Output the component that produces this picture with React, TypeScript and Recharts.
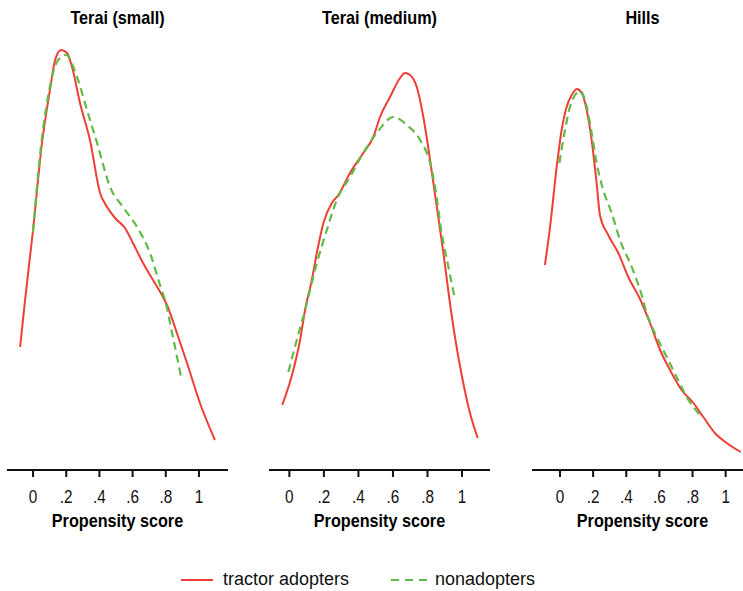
import React from 'react';
import { LineChart, Line, XAxis, YAxis } from 'recharts';

// density curves (x = propensity score, y = density)
const redSmall = [
  { x: -0.078, y: 1.23 }, { x: -0.048, y: 1.7 }, { x: 0, y: 2.4 }, { x: 0.054, y: 3.27 },
  { x: 0.102, y: 3.8 }, { x: 0.133, y: 4.1 }, { x: 0.169, y: 4.2 }, { x: 0.205, y: 4.17 },
  { x: 0.235, y: 4.03 }, { x: 0.283, y: 3.67 }, { x: 0.343, y: 3.3 }, { x: 0.404, y: 2.77 },
  { x: 0.446, y: 2.63 }, { x: 0.494, y: 2.52 }, { x: 0.554, y: 2.42 }, { x: 0.602, y: 2.27 },
  { x: 0.663, y: 2.07 }, { x: 0.723, y: 1.9 }, { x: 0.783, y: 1.73 }, { x: 0.807, y: 1.65 },
  { x: 0.867, y: 1.37 }, { x: 0.928, y: 1.07 }, { x: 1.006, y: 0.67 }, { x: 1.096, y: 0.3 },
];
const greenSmall = [
  { x: 0, y: 2.38 }, { x: 0.042, y: 3.15 }, { x: 0.09, y: 3.73 }, { x: 0.151, y: 4.1 },
  { x: 0.199, y: 4.15 }, { x: 0.265, y: 3.93 }, { x: 0.325, y: 3.6 }, { x: 0.386, y: 3.27 },
  { x: 0.464, y: 2.83 }, { x: 0.542, y: 2.63 }, { x: 0.627, y: 2.43 }, { x: 0.705, y: 2.17 },
  { x: 0.765, y: 1.85 }, { x: 0.795, y: 1.7 }, { x: 0.843, y: 1.33 }, { x: 0.892, y: 0.93 },
];
const redMedium = [
  { x: -0.041, y: 0.65 }, { x: 0.023, y: 1.0 }, { x: 0.062, y: 1.3 }, { x: 0.091, y: 1.6 },
  { x: 0.13, y: 1.9 }, { x: 0.159, y: 2.17 }, { x: 0.197, y: 2.47 }, { x: 0.246, y: 2.67 },
  { x: 0.284, y: 2.75 }, { x: 0.351, y: 2.97 }, { x: 0.428, y: 3.17 }, { x: 0.486, y: 3.33 },
  { x: 0.525, y: 3.53 }, { x: 0.583, y: 3.73 }, { x: 0.641, y: 3.92 }, { x: 0.67, y: 3.97 },
  { x: 0.699, y: 3.95 }, { x: 0.738, y: 3.83 }, { x: 0.776, y: 3.53 }, { x: 0.815, y: 3.1 },
  { x: 0.854, y: 2.63 }, { x: 0.892, y: 2.17 }, { x: 0.926, y: 1.72 }, { x: 0.96, y: 1.32 },
  { x: 0.998, y: 0.95 }, { x: 1.046, y: 0.57 }, { x: 1.091, y: 0.32 },
];
const greenMedium = [
  { x: -0.006, y: 0.98 }, { x: 0.043, y: 1.3 }, { x: 0.091, y: 1.6 }, { x: 0.159, y: 2.07 },
  { x: 0.217, y: 2.4 }, { x: 0.274, y: 2.7 }, { x: 0.351, y: 2.93 }, { x: 0.428, y: 3.17 },
  { x: 0.506, y: 3.37 }, { x: 0.602, y: 3.53 }, { x: 0.68, y: 3.45 }, { x: 0.757, y: 3.3 },
  { x: 0.815, y: 3.07 }, { x: 0.844, y: 2.83 }, { x: 0.882, y: 2.37 }, { x: 0.921, y: 2.03 },
  { x: 0.954, y: 1.75 },
];
const redHills = [
  { x: -0.091, y: 2.05 }, { x: -0.06, y: 2.43 }, { x: -0.02, y: 3.03 }, { x: 0.01, y: 3.4 },
  { x: 0.04, y: 3.63 }, { x: 0.071, y: 3.75 }, { x: 0.101, y: 3.81 }, { x: 0.131, y: 3.77 },
  { x: 0.161, y: 3.6 }, { x: 0.191, y: 3.3 }, { x: 0.221, y: 2.87 }, { x: 0.241, y: 2.55 },
  { x: 0.291, y: 2.35 }, { x: 0.352, y: 2.17 }, { x: 0.412, y: 1.93 }, { x: 0.483, y: 1.71 },
  { x: 0.543, y: 1.47 }, { x: 0.604, y: 1.2 }, { x: 0.664, y: 1.0 }, { x: 0.734, y: 0.8 },
  { x: 0.805, y: 0.67 }, { x: 0.865, y: 0.53 }, { x: 0.935, y: 0.37 }, { x: 1.006, y: 0.27 },
  { x: 1.091, y: 0.18 },
];
const greenHills = [
  { x: -0.004, y: 3.07 }, { x: 0.03, y: 3.4 }, { x: 0.06, y: 3.63 }, { x: 0.091, y: 3.75 },
  { x: 0.121, y: 3.79 }, { x: 0.151, y: 3.7 }, { x: 0.191, y: 3.37 }, { x: 0.221, y: 3.07 },
  { x: 0.261, y: 2.8 }, { x: 0.312, y: 2.57 }, { x: 0.362, y: 2.3 }, { x: 0.433, y: 2.03 },
  { x: 0.493, y: 1.75 }, { x: 0.523, y: 1.57 }, { x: 0.584, y: 1.33 }, { x: 0.644, y: 1.13 },
  { x: 0.704, y: 0.93 }, { x: 0.765, y: 0.73 }, { x: 0.845, y: 0.55 },
];

const TITLES = ['Terai (small)', 'Terai (medium)', 'Hills'];
const TICKS = [0, 0.2, 0.4, 0.6, 0.8, 1];
const TICK_LABELS = ['0', '.2', '.4', '.6', '.8', '1'];
const SERIES_NAMES = ['tractor adopters', 'nonadopters'];

const RED = '#ee3f36';
const GREEN = '#62bb46';
const FONT = '"Liberation Sans", Arial, sans-serif';

const panels = [
  { left: 7, domain: [-0.157, 1.175], red: redSmall, green: greenSmall },
  { left: 269, domain: [-0.118, 1.162], red: redMedium, green: greenMedium },
  { left: 532, domain: [-0.169, 1.165], red: redHills, green: greenHills },
];

const PANEL_W = 221;

const Tick = (props: any) => {
  const { x, y, payload } = props;
  const i = TICKS.indexOf(payload.value);
  return (
    <g transform={`translate(${x},${y})`}>
      <text transform="scale(0.85,1)" textAnchor="middle" dy={26} fontSize={18} fontFamily={FONT} fill="#111">
        {TICK_LABELS[i]}
      </text>
    </g>
  );
};

const Panel = ({ p }: { p: (typeof panels)[number] }) => (
  <div style={{ position: 'absolute', left: p.left, top: 0 }}>
    <LineChart width={PANEL_W} height={540} margin={{ top: 20, right: 0, bottom: 0, left: 0 }}>
      <XAxis
        type="number"
        dataKey="x"
        domain={p.domain}
        allowDataOverflow
        ticks={TICKS}
        interval={0}
        height={70}
        tickSize={7}
        tickMargin={0}
        axisLine={{ stroke: '#111', strokeWidth: 2 }}
        tickLine={{ stroke: '#111', strokeWidth: 2 }}
        tick={<Tick />}
      />
      <YAxis hide type="number" domain={[0, 4.5]} allowDataOverflow />
      <Line data={p.red} dataKey="y" type="monotone" stroke={RED} strokeWidth={2} dot={false} isAnimationActive={false} />
      <Line data={p.green} dataKey="y" type="monotone" stroke={GREEN} strokeWidth={2.2} strokeDasharray="8 5" dot={false} isAnimationActive={false} />
    </LineChart>
  </div>
);

export default function App() {
  return (
    <div style={{ position: 'absolute', left: 0, top: 0, width: 743, height: 591, overflow: 'hidden', background: '#fff' }}>
      {panels.map((p, i) => (
        <Panel key={i} p={p} />
      ))}
      <svg width={743} height={591} style={{ position: 'absolute', left: 0, top: 0, pointerEvents: 'none' }} fontFamily={FONT}>
        {panels.map((p, i) => {
          const cx = p.left + PANEL_W / 2;
          return (
            <g key={i}>
              <text transform={`translate(${cx},24) scale(0.9,1)`} textAnchor="middle" fontSize={18} fontWeight="bold" fill="#000">
                {TITLES[i]}
              </text>
              <text transform={`translate(${cx},527) scale(0.9,1)`} textAnchor="middle" fontSize={18} fontWeight="bold" fill="#000">
                Propensity score
              </text>
            </g>
          );
        })}
        <line x1={181} x2={213} y1={580} y2={580} stroke={RED} strokeWidth={2} />
        <text x={223} y={585} fontSize={18} fill="#111">{SERIES_NAMES[0]}</text>
        <line x1={391} x2={427} y1={580} y2={580} stroke={GREEN} strokeWidth={2.2} strokeDasharray="8 6" />
        <text x={435} y={585} fontSize={18} fill="#111">{SERIES_NAMES[1]}</text>
      </svg>
    </div>
  );
}
